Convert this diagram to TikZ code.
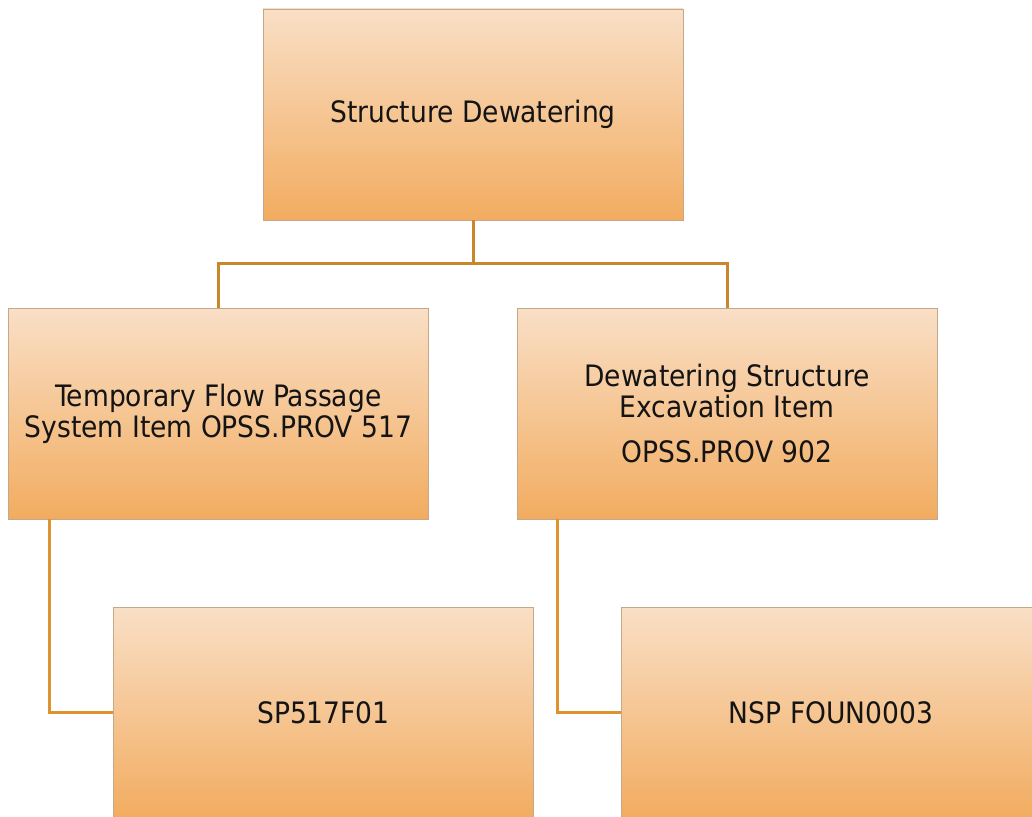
\documentclass[tikz,border=0pt]{standalone}
\usepackage{fontspec}
\setmainfont{DejaVu Sans Condensed}
\usetikzlibrary{positioning}
\definecolor{boxtop}{RGB}{249,223,198}
\definecolor{boxmid}{RGB}{245,196,146}
\definecolor{boxbot}{RGB}{242,172,96}
\definecolor{boxedge}{RGB}{196,168,140}
\definecolor{linkA}{RGB}{200,136,42}
\definecolor{linkB}{RGB}{222,148,46}
\tikzset{
  orgbox/.style={rectangle, minimum width=420pt, minimum height=211pt,
    top color=boxtop, middle color=boxmid, bottom color=boxbot,
    draw=boxedge, line width=0.8pt,
    align=center, inner sep=0pt, text=black!92,
    font=\fontsize{29.5}{31}\selectfont},
  linkup/.style={draw=linkA, line width=3pt},
  linkdown/.style={draw=linkB, line width=3pt},
}
\begin{document}
\begin{tikzpicture}[x=1pt,y=-1pt]
  \clip (0,0) rectangle (1032,816);
  \fill[white] (0,0) rectangle (1032,816);

  % boxes
  \node[orgbox] (root)  at (473,114.5) {Structure Dewatering};
  \node[orgbox] (left)  at (218.5,413.5) {Temporary Flow Passage\\System Item OPSS.PROV 517};
  \node[orgbox] (right) at (727,413.5) {Dewatering Structure\\Excavation Item\\[14pt]OPSS.PROV 902};
  \node[orgbox] (sp)    at (323.5,712.5) {SP517F01};
  \node[orgbox] (nsp)   at (831,712.5) {NSP FOUN0003};

  % bus line between the first two levels
  \coordinate (bus) at (0,263);
  \draw[linkup] (root.south) -- (root.south |- bus) -| (left.north);
  \draw[linkup] (root.south |- bus) -| (right.north);

  % side links to the lower boxes
  \coordinate (ljoin) at ([xshift=41pt]left.south west);
  \coordinate (rjoin) at ([xshift=41pt]right.south west);
  \draw[linkdown] (ljoin) |- (sp.west);
  \draw[linkdown] (rjoin) |- (nsp.west);
\end{tikzpicture}
\end{document}
